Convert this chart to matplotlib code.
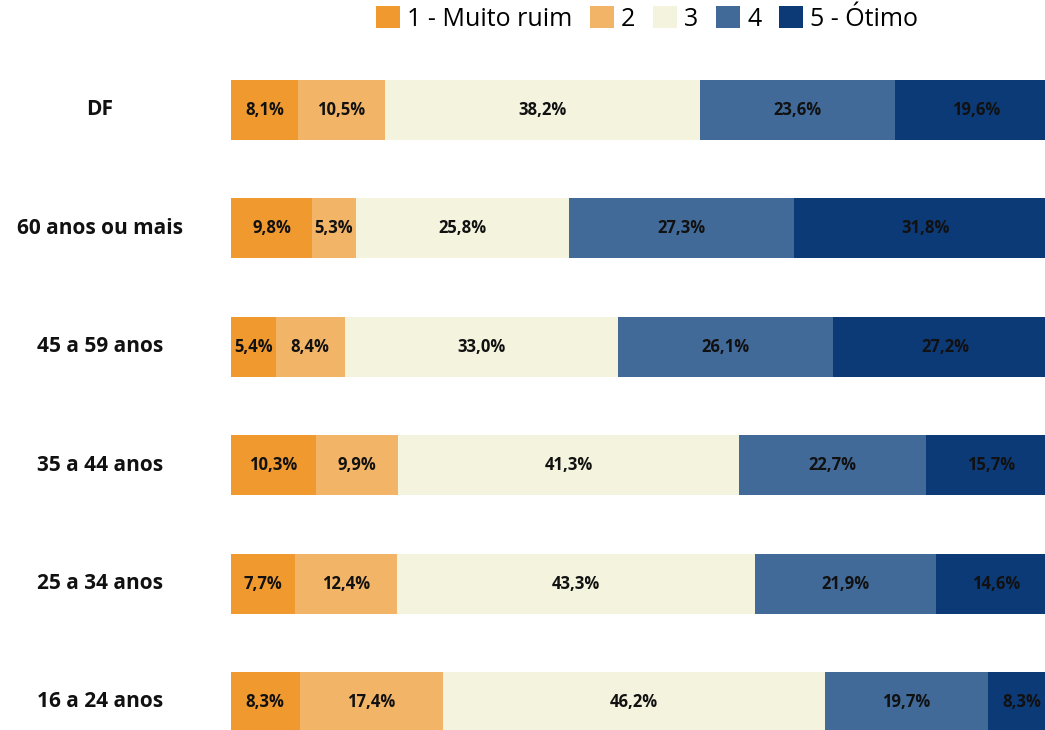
import matplotlib
matplotlib.use("Agg")
import matplotlib.pyplot as plt
from matplotlib.patches import Patch
import numpy as np

categories = ["16 a 24 anos", "25 a 34 anos", "35 a 44 anos", "45 a 59 anos", "60 anos ou mais", "DF"]
series_names = ["1 - Muito ruim", "2", "3", "4", "5 - Ótimo"]
s1 = [8.3, 7.7, 10.3, 5.4, 9.8, 8.1]
s2 = [17.4, 12.4, 9.9, 8.4, 5.3, 10.5]
s3 = [46.2, 43.3, 41.3, 33.0, 25.8, 38.2]
s4 = [19.7, 21.9, 22.7, 26.1, 27.3, 23.6]
s5 = [8.3, 14.6, 15.7, 27.2, 31.8, 19.6]
colors = ["#F0992F", "#F2B466", "#F4F3DE", "#416A99", "#0C3A77"]

plt.rcParams['font.family'] = ['Open Sans', 'DejaVu Sans']

fig = plt.figure(figsize=(10.45, 7.3), dpi=100)
ax = fig.add_axes([231/1045, 0, 814/1045, 1])
px_per_pct = 8.26

y = np.arange(len(categories))
left = np.zeros(len(categories))
for vals, name, c in zip([s1, s2, s3, s4, s5], series_names, colors):
    vals = np.array(vals)
    ax.barh(y, vals, left=left, height=0.506, color=c, edgecolor='none')
    for yi, l, v in zip(y, left, vals):
        ax.text(l + v / 2, yi, f"{v:.1f}%".replace(".", ","), ha='center', va='center',
                fontsize=12, fontweight='bold', color='#111111', clip_on=False)
    left = left + vals

ax.set_xlim(0, 814 / px_per_pct)
ax.set_ylim(-0.2365, 5.929)
ax.axis('off')

for yi, cat in zip(y, categories):
    ax.text(-(231 - 100) / px_per_pct, yi, cat, ha='center', va='center',
            fontsize=15, fontweight='bold', color='#111111')

handles = [Patch(facecolor=c, edgecolor='none') for c in colors]
fig.legend(handles, series_names, loc='center', bbox_to_anchor=(647/1045, 1 - 19/730),
           ncol=5, frameon=False, fontsize=18, handlelength=0.95, handleheight=0.95,
           handletextpad=0.3, columnspacing=0.7, borderpad=0)

fig.savefig("out.png", dpi=100)
